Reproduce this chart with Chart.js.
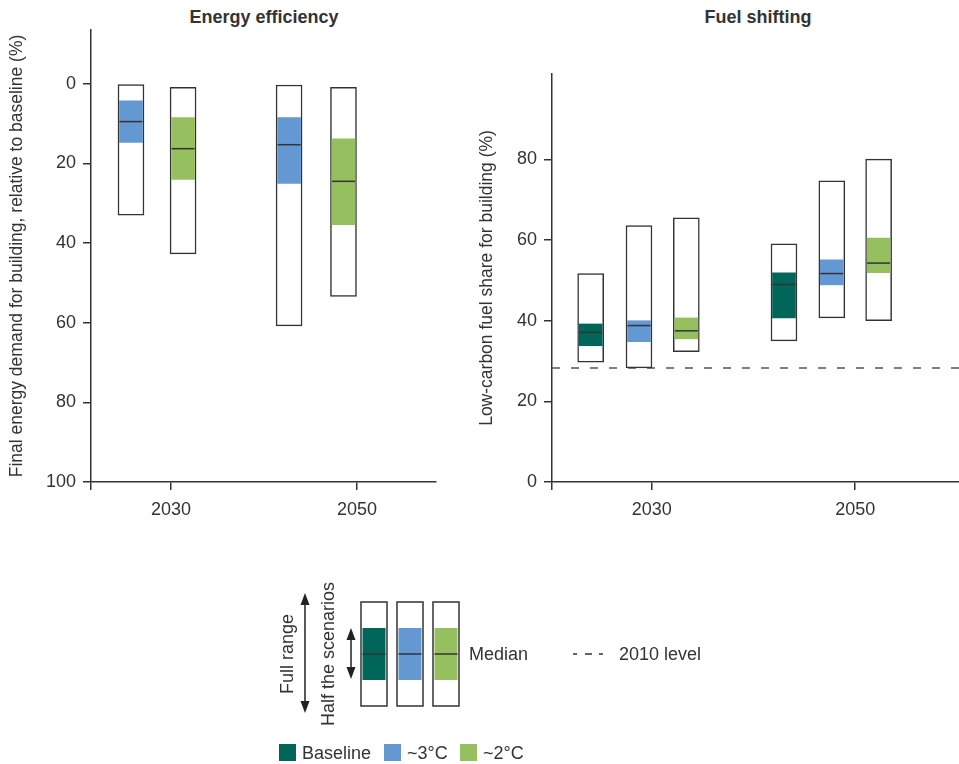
<!DOCTYPE html>
<html>
<head>
<meta charset="utf-8">
<script src="https://cdn.jsdelivr.net/npm/chart.js@4.4.1/dist/chart.umd.min.js"></script>
<style>
  body { margin: 0; background: #fff; width: 959px; height: 764px; position: relative; overflow: hidden;
         font-family: 'Liberation Sans', Arial, sans-serif; color: #333; }
  canvas { position: absolute; top: 0; }
  #effChart { left: 0; }
  #fuelChart { left: 470px; }
  .title { position: absolute; top: 6px; font-size: 18px; font-weight: bold; line-height: 22px;
           transform: translateX(-50%); white-space: nowrap; }
  svg { position: absolute; left: 0; top: 0; }
  svg text { font-family: 'Liberation Sans', Arial, sans-serif; font-size: 18px; fill: #333; }
</style>
</head>
<body>
<div class="title" style="left:264px">Energy efficiency</div>
<div class="title" style="left:758px">Fuel shifting</div>
<canvas id="effChart" width="450" height="520"></canvas>
<canvas id="fuelChart" width="489" height="520"></canvas>

<svg width="959" height="764">
  <!-- range explanation -->
  <text transform="translate(293,654) rotate(-90)" text-anchor="middle">Full range</text>
  <line x1="305" y1="600" x2="305" y2="706" stroke="#222" stroke-width="1.5"/>
  <polygon points="305,593 300.5,605 309.5,605" fill="#222"/>
  <polygon points="305,713 300.5,701 309.5,701" fill="#222"/>
  <text transform="translate(334,654) rotate(-90)" text-anchor="middle">Half the scenarios</text>
  <line x1="351" y1="634" x2="351" y2="673" stroke="#222" stroke-width="1.5"/>
  <polygon points="351,628 346.5,640 355.5,640" fill="#222"/>
  <polygon points="351,679 346.5,667 355.5,667" fill="#222"/>
  <g id="legendBoxes"></g>
  <text x="469" y="660">Median</text>
  <line x1="573" y1="654" x2="603" y2="654" stroke="#333" stroke-width="1.5" stroke-dasharray="4 8 7 7 4"/>
  <text x="619" y="660">2010 level</text>
  <g id="legendKeys"></g>
</svg>

<script>
const FONT = "'Liberation Sans', Arial, sans-serif";
const INK = '#333333';

const scenarios = ['Baseline', '~3°C', '~2°C'];
const scenarioColors = ['#00665a', '#6498d2', '#96bf5f'];
const yearTicks = [2030, 2050];

// Energy efficiency: final energy demand for building, relative to baseline (%)
const effYear = [2030, 2030, 2050, 2050];
const effScenario = ['~3°C', '~2°C', '~3°C', '~2°C'];
const effMin = [0, 0.9, 0.3, 0.9];
const effQ1 = [4.3, 8.5, 8.5, 13.8];
const effMedian = [9.5, 16.3, 15.3, 24.5];
const effQ3 = [14.7, 24.0, 25.0, 35.4];
const effMax = [33.0, 42.7, 60.8, 53.4];
const effTicks = [0, 20, 40, 60, 80, 100];

// Fuel shifting: low-carbon fuel share for building (%)
const fuelYear = [2030, 2030, 2030, 2050, 2050, 2050];
const fuelScenario = ['Baseline', '~3°C', '~2°C', 'Baseline', '~3°C', '~2°C'];
const fuelMin = [29.7, 28.3, 32.3, 35.0, 40.7, 40.0];
const fuelQ1 = [33.8, 34.8, 35.5, 40.7, 48.9, 51.9];
const fuelMedian = [37.1, 38.8, 37.5, 49.0, 51.7, 54.3];
const fuelQ3 = [39.2, 40.0, 40.7, 51.9, 55.1, 60.5];
const fuelMax = [51.7, 63.6, 65.5, 59.1, 74.7, 80.1];
const fuel2010Level = 28.3;
const fuelTicks = [0, 20, 40, 60, 80];

// layout: where each box sits beside its year tick (in years)
const effOffset = [-4.3, 1.3, -7.3, -1.45];
const fuelOffset = [-6.0, -1.25, 3.4, -7.0, -2.3, 2.3];

function colorOf(s) { return scenarioColors[scenarios.indexOf(s)]; }

function boxDatasets(year, scen, min, q1, med, q3, max, offset) {
  const xs = year.map((y, i) => y + offset[i]);
  return [
    {
      type: 'bar', order: 2, grouped: false,
      data: xs.map((x, i) => ({ x, y: [min[i], max[i]] })),
      backgroundColor: '#fff', borderColor: INK, borderWidth: 1.5, borderSkipped: false,
      barThickness: 26
    },
    {
      type: 'bar', order: 1, grouped: false,
      data: xs.map((x, i) => ({ x, y: [q1[i], q3[i]] })),
      backgroundColor: scen.map(colorOf), borderWidth: 0,
      barThickness: 23
    },
    {
      type: 'scatter', order: 0, showLine: false,
      data: xs.map((x, i) => ({ x, y: med[i] })),
      pointStyle: 'line', pointRadius: 11.5, pointHoverRadius: 11.5,
      borderColor: INK, borderWidth: 1.5
    }
  ];
}

function xScale(min, max) {
  return {
    type: 'linear', min, max, offset: false,
    afterBuildTicks: s => { s.ticks = [min, ...yearTicks].map(v => ({ value: v })); },
    afterFit: s => { s.height = 38; s.paddingLeft = 0; s.paddingRight = 0; },
    ticks: {
      callback: v => yearTicks.includes(v) ? String(v) : '',
      color: INK, font: { family: FONT, size: 18 }, padding: 9, maxRotation: 0, autoSkip: false
    },
    grid: { offset: false, drawOnChartArea: false, tickLength: 8, color: INK, lineWidth: 1.5 },
    border: { color: INK, width: 1.5 }
  };
}

function yScale(min, max, reverse, ticks, width, title) {
  return {
    type: 'linear', min, max, reverse,
    afterBuildTicks: s => { s.ticks = ticks.map(v => ({ value: v })); },
    afterFit: s => { s.width = width; s.paddingTop = 0; s.paddingBottom = 0; },
    ticks: { color: INK, font: { family: FONT, size: 18 }, padding: 7, autoSkip: false },
    grid: { drawOnChartArea: false, tickLength: 8, color: INK, lineWidth: 1.5 },
    border: { color: INK, width: 1.5 },
    title: { display: true, text: title, color: INK, font: { family: FONT, size: 17.5 }, padding: { top: 7, bottom: 0 } }
  };
}

const common = {
  responsive: false,
  animation: false,
  events: [],
  plugins: { legend: { display: false }, tooltip: { enabled: false } }
};

new Chart(document.getElementById('effChart'), {
  type: 'bar',
  data: { datasets: boxDatasets(effYear, effScenario, effMin, effQ1, effMedian, effQ3, effMax, effOffset) },
  options: {
    ...common,
    layout: { autoPadding: false, padding: { left: 0, top: 30, right: 14, bottom: 0 } },
    scales: {
      x: xScale(2021.4, 2058.5),
      y: yScale(-13.5, 100, true, effTicks, 91, 'Final energy demand for building, relative to baseline (%)')
    }
  }
});

const fuelXMin = 2020.2, fuelXMax = 2060.2;
new Chart(document.getElementById('fuelChart'), {
  type: 'bar',
  data: {
    datasets: [
      {
        type: 'line', order: 3,
        data: [{ x: fuelXMin, y: fuel2010Level }, { x: fuelXMax, y: fuel2010Level }],
        borderColor: '#555', borderWidth: 1.5, borderDash: [8, 11], pointRadius: 0
      },
      ...boxDatasets(fuelYear, fuelScenario, fuelMin, fuelQ1, fuelMedian, fuelQ3, fuelMax, fuelOffset)
    ]
  },
  options: {
    ...common,
    layout: { autoPadding: false, padding: { left: 0, top: 74, right: 0, bottom: 0 } },
    scales: {
      x: xScale(fuelXMin, fuelXMax),
      y: yScale(0, 101.2, false, fuelTicks, 82, 'Low-carbon fuel share for building (%)')
    }
  }
});

// legend graphics
const NS = 'http://www.w3.org/2000/svg';
function el(parent, tag, attrs) {
  const e = document.createElementNS(NS, tag);
  for (const k in attrs) e.setAttribute(k, attrs[k]);
  parent.appendChild(e);
  return e;
}
const boxG = document.getElementById('legendBoxes');
const keyG = document.getElementById('legendKeys');
const boxX = [361, 397, 433];
const keyX = [279, 384, 460];
scenarios.forEach((s, i) => {
  el(boxG, 'rect', { x: boxX[i], y: 602, width: 26, height: 104, fill: '#fff', stroke: INK, 'stroke-width': 1.5 });
  el(boxG, 'rect', { x: boxX[i] + 1.5, y: 628, width: 23, height: 52, fill: scenarioColors[i] });
  el(boxG, 'line', { x1: boxX[i] + 1.5, x2: boxX[i] + 24.5, y1: 654, y2: 654, stroke: INK, 'stroke-width': 1.5 });
  el(keyG, 'rect', { x: keyX[i], y: 744, width: 17, height: 17, fill: scenarioColors[i] });
  const t = el(keyG, 'text', { x: keyX[i] + 23, y: 758.5 });
  t.textContent = s;
});
</script>
</body>
</html>
